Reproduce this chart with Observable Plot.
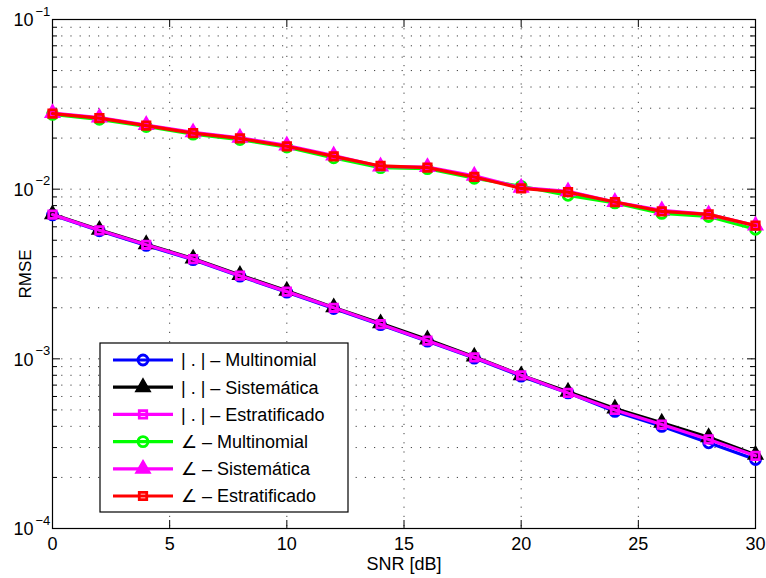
<!DOCTYPE html>
<html>
<head>
<meta charset="utf-8">
<script src="https://cdn.jsdelivr.net/npm/d3@7"></script>
<script src="https://cdn.jsdelivr.net/npm/@observablehq/plot@0.6"></script>
<style>
  html, body { margin: 0; padding: 0; background: #fff; }
  #chart { position: relative; width: 766px; height: 578px; font-family: "Liberation Sans", Arial, Helvetica, sans-serif; }
  #chart svg { position: absolute; left: 0; top: 0; }
</style>
</head>
<body>
<div id="chart"></div>
<script>
// ---- data ----
const snr = [0, 2, 4, 6, 8, 10, 12, 14, 16, 18, 20, 22, 24, 26, 28, 30];

const magMultinomial = [0.00705, 0.00568, 0.00466, 0.00384, 0.00307, 0.00247, 0.00198, 0.00159, 0.00127, 0.00101, 0.00079, 0.00063, 0.00049, 0.00040, 0.00032, 0.000255];
const magSistematica = [0.00712, 0.00576, 0.00474, 0.00390, 0.00312, 0.00252, 0.00201, 0.00162, 0.00130, 0.00103, 0.00080, 0.00064, 0.00051, 0.00042, 0.000345, 0.000272];
const magEstratificado = [0.00708, 0.00572, 0.00470, 0.00387, 0.00309, 0.00249, 0.00200, 0.00160, 0.00128, 0.00102, 0.00080, 0.00063, 0.00050, 0.00041, 0.000335, 0.000268];
const angMultinomial = [0.0276, 0.0258, 0.0234, 0.0211, 0.0196, 0.0177, 0.0153, 0.0134, 0.0132, 0.0116, 0.0104, 0.0092, 0.0083, 0.0072, 0.0069, 0.0058];
const angSistematica = [0.0281, 0.0264, 0.0239, 0.0216, 0.0201, 0.0181, 0.0158, 0.0136, 0.0135, 0.0120, 0.0102, 0.0097, 0.0084, 0.0075, 0.0071, 0.0061];
const angEstratificado = [0.0279, 0.0262, 0.0237, 0.0214, 0.0199, 0.0179, 0.0156, 0.0137, 0.0134, 0.0118, 0.0101, 0.0096, 0.0084, 0.0074, 0.0071, 0.0061];

const seriesNames = ["| . | \u2013 Multinomial", "| . | \u2013 Sistem\u00e1tica", "| . | \u2013 Estratificado",
                     "\u2220 \u2013 Multinomial", "\u2220 \u2013 Sistem\u00e1tica", "\u2220 \u2013 Estratificado"];
const seriesValues = [magMultinomial, magSistematica, magEstratificado, angMultinomial, angSistematica, angEstratificado];
const seriesColors = ["#0000ff", "#000000", "#ff00ff", "#00ff00", "#ff00ff", "#ff0000"];
const seriesSymbols = ["circle", "triangle", "square", "circle", "triangle", "square"];

const xTicks = [0, 5, 10, 15, 20, 25, 30];
const xGrid = [5, 10, 15, 20, 25];
const yMajor = [1e-4, 1e-3, 1e-2, 1e-1];
const yExponents = [-4, -3, -2, -1];
const yMinor = [2e-4,3e-4,4e-4,5e-4,6e-4,7e-4,8e-4,9e-4,
                2e-3,3e-3,4e-3,5e-3,6e-3,7e-3,8e-3,9e-3,
                2e-2,3e-2,4e-2,5e-2,6e-2,7e-2,8e-2,9e-2];
const yGrid = [...yMinor, 1e-3, 1e-2];
const xLabel = "SNR [dB]";
const yLabel = "RMSE";

// ---- layout ----
const W = 766, H = 578;
const mL = 52, mR = 11, mT = 19, mB = 50;
const pw = W - mL - mR, ph = H - mT - mB;
const FONT = '"Liberation Sans", Arial, Helvetica, sans-serif';

const rows = [];
seriesValues.forEach((vals, si) => vals.forEach((v, i) => rows.push({snr: snr[i], v, s: si})));

const symR = {circle: 5, triangle: 5.4, square: 4.2};

const seriesMarks = [];
seriesNames.forEach((name, si) => {
  const d = rows.filter(r => r.s === si);
  const sym = seriesSymbols[si];
  const col = seriesColors[si];
  seriesMarks.push(Plot.line(d, {x: "snr", y: "v", stroke: col, strokeWidth: 3.2}));
  seriesMarks.push(Plot.dot(d, {x: "snr", y: "v", symbol: () => sym, r: symR[sym],
    stroke: col, strokeWidth: sym === "triangle" ? 1.5 : 2.8,
    fill: sym === "triangle" ? col : "none"}));
});

const tickStyle = {stroke: "#000", strokeWidth: 1};
const dotted = {stroke: "#000", strokeOpacity: 0.75, strokeWidth: 1, strokeDasharray: "1.2,8"};

const chart = Plot.plot({
  width: W, height: H,
  marginLeft: mL, marginRight: mR, marginTop: mT, marginBottom: mB,
  style: {fontFamily: FONT, background: "#fff", overflow: "visible"},
  x: {domain: [0, 30]},
  y: {type: "log", domain: [1e-4, 1e-1], axis: null},
  symbol: {domain: ["circle", "triangle", "square"], range: ["circle", "triangle", "square"]},
  marks: [
    Plot.gridX(xGrid, {...dotted}),
    Plot.gridY(yGrid, {...dotted}),
    // inward ticks
    Plot.tickX(xTicks, {x: d => d, insetTop: ph - 8, ...tickStyle}),
    Plot.tickX(xTicks, {x: d => d, insetBottom: ph - 8, ...tickStyle}),
    Plot.tickY(yMajor, {y: d => d, insetRight: pw - 8, ...tickStyle}),
    Plot.tickY(yMajor, {y: d => d, insetLeft: pw - 8, ...tickStyle}),
    Plot.tickY(yMinor, {y: d => d, insetRight: pw - 5, ...tickStyle}),
    Plot.tickY(yMinor, {y: d => d, insetLeft: pw - 5, ...tickStyle}),
    Plot.frame({stroke: "#000", strokeWidth: 1.2}),
    ...seriesMarks,
    Plot.axisX({ticks: xTicks, tickSize: 0, tickPadding: 9, label: null, fontSize: 18, tickFormat: d => String(d), fill: "#000"}),
    Plot.text(yMajor, {y: d => d, frameAnchor: "left", text: () => "10", textAnchor: "end", lineAnchor: "middle", dx: -19, dy: 1, fontSize: 18, fill: "#000"}),
    Plot.text(yMajor, {y: d => d, frameAnchor: "left", text: (d, i) => "\u2212" + Math.abs(yExponents[i]), textAnchor: "start", lineAnchor: "middle", dx: -17, dy: -8, fontSize: 13, fill: "#000"}),
    Plot.text([yLabel], {frameAnchor: "left", text: d => d, rotate: -90, textAnchor: "middle", lineAnchor: "middle", dx: -27, fontSize: 17, fill: "#000"}),
    Plot.text([xLabel], {frameAnchor: "bottom", text: d => d, textAnchor: "middle", lineAnchor: "middle", dy: 36, fontSize: 18, fill: "#000"})
  ]
});

document.getElementById("chart").appendChild(chart);

// ---- legend (inside plot area) ----
const svg = d3.select(chart);
const lg = svg.append("g").attr("font-family", FONT).attr("text-anchor", "start");
const boxX = 100, boxY = 343, boxW = 248, boxH = 169;
lg.append("rect").attr("x", boxX).attr("y", boxY).attr("width", boxW).attr("height", boxH)
  .attr("fill", "#fff").attr("stroke", "#000").attr("stroke-width", 1.2);
const symbolType = {circle: d3.symbolCircle, triangle: d3.symbolTriangle, square: d3.symbolSquare};
seriesNames.forEach((name, i) => {
  const cy = 360 + i * 27.2;
  const col = seriesColors[i], sym = seriesSymbols[i];
  lg.append("line").attr("x1", 113).attr("x2", 173).attr("y1", cy).attr("y2", cy)
    .attr("stroke", col).attr("stroke-width", 3.2);
  const r = symR[sym];
  lg.append("path").attr("transform", `translate(143,${cy})`)
    .attr("d", d3.symbol(symbolType[sym], Math.PI * r * r)())
    .attr("fill", sym === "triangle" ? col : "none")
    .attr("stroke", col).attr("stroke-width", sym === "triangle" ? 1.5 : 2.8);
  lg.append("text").attr("x", 181).attr("y", cy).attr("dy", "0.35em")
    .attr("text-anchor", "start")
    .attr("font-size", 18).attr("fill", "#000").text(name);
});
</script>
</body>
</html>
